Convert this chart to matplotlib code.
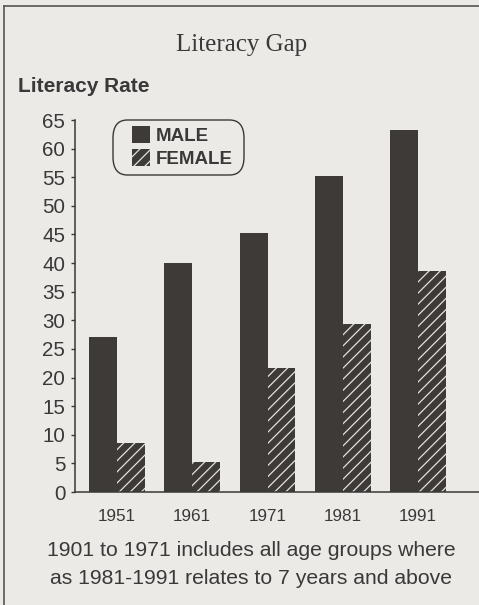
import numpy as np
import matplotlib
matplotlib.use("Agg")
from matplotlib import pyplot as plt
from matplotlib.patches import Patch, FancyBboxPatch
from matplotlib.lines import Line2D

years = ["1951", "1961", "1971", "1981", "1991"]
male = [27.0, 40.0, 45.2, 55.3, 63.2]
female = [8.6, 5.2, 21.6, 29.3, 38.6]
y_ticks = list(range(0, 70, 5))

paper = "#ebeae7"
ink = "#3a3838"
bar_dark = "#3d3a38"

plt.rcParams["hatch.linewidth"] = 0.9
plt.rcParams["font.family"] = ["Liberation Sans", "DejaVu Sans"]

fig = plt.figure(figsize=(4.79, 6.05), dpi=100)
fig.patch.set_facecolor(paper)

ax = fig.add_axes([75 / 479, (605 - 492) / 605, (479 - 75) / 479, (492 - 120) / 605])
ax.set_facecolor(paper)

x = np.arange(len(years))
w = 0.37
ax.bar(x - w / 2, male, w, color=bar_dark, linewidth=0)
ax.bar(x + w / 2, female, w, facecolor=bar_dark, edgecolor="#e2e2e2",
       linewidth=0, hatch="///")

ax.set_xlim(-0.558, 4.81)
ax.set_ylim(0, 65)
ax.set_yticks(y_ticks)
ax.set_xticks(x)
ax.set_xticklabels(years)
ax.tick_params(axis="y", labelsize=14.8, colors=ink, length=3, width=1, pad=4)
ax.tick_params(axis="x", labelsize=12.3, colors=ink, length=0, pad=12)
for s in ["top", "right"]:
    ax.spines[s].set_visible(False)
for s in ["left", "bottom"]:
    ax.spines[s].set_color(ink)
    ax.spines[s].set_linewidth(1.1)

# legend: rounded box drawn by hand, entries by matplotlib
box = FancyBboxPatch((113 / 479, 1 - 175 / 605), 131 / 479, 55 / 605,
                     boxstyle="round,pad=0,rounding_size=0.03",
                     transform=fig.transFigure, facecolor=paper,
                     edgecolor=ink, linewidth=1.0, zorder=5)
fig.add_artist(box)
handles = [Patch(facecolor=bar_dark, linewidth=0),
           Patch(facecolor=bar_dark, edgecolor="#e2e2e2", linewidth=0, hatch="///")]
leg = fig.legend(handles, ["MALE", "FEMALE"], loc="upper left",
                 bbox_to_anchor=(130 / 479, 1 - 124 / 605), borderaxespad=0,
                 prop={"weight": "bold", "size": 13.5}, handlelength=0.95,
                 handleheight=1.05, handletextpad=0.3, labelspacing=0.2,
                 borderpad=0.1, frameon=False)
leg.set_zorder(6)
for t in leg.get_texts():
    t.set_color(ink)

fig.text(242 / 479, 1 - 45 / 605, "Literacy Gap", ha="center", va="center",
         fontsize=18, color=ink, family=["Liberation Serif", "DejaVu Serif"])
fig.text(18 / 479, 1 - 86 / 605, "Literacy Rate", ha="left", va="center",
         fontsize=15, weight="bold", color=ink)
fig.text(251 / 479, 1 - 551 / 605, "1901 to 1971 includes all age groups where",
         ha="center", va="center", fontsize=15.2, color=ink)
fig.text(251 / 479, 1 - 578 / 605, "as 1981-1991 relates to 7 years and above",
         ha="center", va="center", fontsize=15.2, color=ink)

# outer frame lines
fig.add_artist(Line2D([4 / 479, 4 / 479], [0, 1 - 6 / 605], color="#555555",
                      lw=1.2, transform=fig.transFigure))
fig.add_artist(Line2D([4 / 479, 1], [1 - 6 / 605, 1 - 6 / 605], color="#555555",
                      lw=1.2, transform=fig.transFigure))

fig.savefig("out.png", dpi=100, facecolor=paper)
